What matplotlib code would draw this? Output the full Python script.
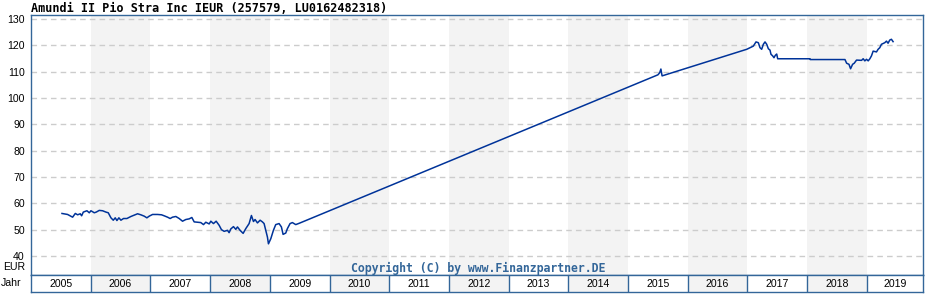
import matplotlib
matplotlib.use("Agg")
import matplotlib.pyplot as plt

# price series (fractional year, EUR)
years = [
    2005.519, 2005.613, 2005.697, 2005.742, 2005.781, 2005.825, 2005.848, 2005.876,
    2005.937, 2005.976, 2006.004, 2006.060, 2006.093, 2006.143, 2006.199, 2006.255,
    2006.294, 2006.339, 2006.378, 2006.411, 2006.439, 2006.472, 2006.506, 2006.550,
    2006.606, 2006.673, 2006.785, 2006.840, 2006.896, 2006.941, 2006.980, 2007.036,
    2007.119, 2007.186, 2007.231, 2007.287, 2007.331, 2007.370, 2007.426, 2007.482,
    2007.538, 2007.593, 2007.649, 2007.694, 2007.733, 2007.789, 2007.844, 2007.889,
    2007.928, 2007.984, 2008.012, 2008.056, 2008.101, 2008.151, 2008.190, 2008.235,
    2008.291, 2008.318, 2008.346, 2008.391, 2008.430, 2008.458, 2008.502, 2008.553,
    2008.597, 2008.653, 2008.692, 2008.726, 2008.753, 2008.793, 2008.837, 2008.876,
    2008.904, 2008.932, 2008.960, 2008.977, 2009.016, 2009.060, 2009.099, 2009.155,
    2009.194, 2009.222, 2009.267, 2009.294, 2009.339, 2009.378, 2009.434, 2009.490,
    2015.500, 2015.530, 2015.550, 2015.570,
    2016.988, 2017.098, 2017.143, 2017.182, 2017.210, 2017.238, 2017.266, 2017.294,
    2017.322, 2017.350, 2017.377, 2017.394, 2017.422, 2017.444, 2017.466, 2017.490,
    2017.506, 2018.047, 2018.052, 2018.633, 2018.661, 2018.700, 2018.727, 2018.761,
    2018.788, 2018.816, 2018.827, 2018.911, 2018.938, 2018.966, 2018.994, 2019.022,
    2019.050, 2019.077, 2019.105, 2019.161, 2019.188, 2019.216, 2019.244, 2019.300,
    2019.328, 2019.355, 2019.383, 2019.411, 2019.439,
]
prices = [
    56.15, 55.77, 54.74, 56.15, 55.64, 56.03, 55.26, 56.67,
    57.18, 56.41, 57.18, 56.41, 56.67, 57.31, 57.18, 56.67,
    56.41, 54.49, 53.59, 54.49, 53.46, 54.49, 53.59, 54.23,
    54.23, 55.00, 56.03, 55.64, 55.13, 54.49, 55.13, 55.77,
    55.77, 55.64, 55.26, 54.74, 54.23, 54.74, 55.00, 54.23,
    53.21, 53.85, 54.10, 54.62, 52.95, 52.82, 52.69, 51.92,
    52.82, 52.18, 53.21, 52.31, 53.21, 51.67, 50.00, 49.36,
    49.74, 48.85, 50.26, 51.15, 50.13, 51.03, 49.74, 48.59,
    50.38, 52.31, 55.38, 53.08, 53.85, 52.56, 53.59, 52.95,
    52.31, 49.74, 47.18, 44.62, 46.54, 49.74, 51.92, 52.31,
    51.03, 48.21, 48.72, 50.38, 52.31, 52.69, 51.92, 52.40,
    108.8, 109.6, 111.0, 108.4,
    118.5, 119.7, 121.3, 121.0, 119.1, 118.5, 120.4, 121.3,
    120.4, 118.7, 118.2, 116.6, 116.0, 115.3, 116.2, 116.7,
    114.9, 114.9, 114.6, 114.6, 113.2, 112.8, 111.1, 112.8,
    113.2, 114.1, 114.4, 114.3, 114.9, 114.1, 114.7, 114.1,
    114.9, 116.0, 117.8, 117.5, 118.5, 119.1, 120.4, 121.0,
    121.6, 120.8, 122.0, 122.3, 121.4,
]
year_labels = list(range(2005, 2020))
y_ticks = [40, 50, 60, 70, 80, 90, 100, 110, 120, 130]

title = "Amundi II Pio Stra Inc IEUR (257579, LU0162482318)"
copyright_txt = "Copyright (C) by www.Finanzpartner.DE"

frame_col = "#336699"
shade_col = "#f3f3f3"
line_col = "#003399"
x0, x1 = 2005.0, 2019.94

plt.rcParams["lines.scale_dashes"] = False

fig = plt.figure(figsize=(9.28, 3.0), dpi=100)
ax = fig.add_axes([31 / 928, 1 - 275 / 300, 892 / 928, 260 / 300])
ax.set_xlim(x0, x1)
ax.set_ylim(32.78, 131.52)

for yr in year_labels:
    if yr % 2 == 0:
        ax.axvspan(yr, yr + 1, color=shade_col, lw=0, zorder=0)
for v in y_ticks:
    ax.axhline(v, color="#cccccc", lw=1.0, ls=(0, (4, 3)), zorder=1)

ax.plot(years, prices, color=line_col, lw=1.1, zorder=3)

ax.set_xticks([])
ax.set_yticks(y_ticks)
ax.set_yticklabels([str(v) for v in y_ticks], fontfamily="Liberation Sans", fontsize=7.6)
ax.tick_params(axis="y", length=0, pad=4.5)
for s in ax.spines.values():
    s.set_color(frame_col)
    s.set_linewidth(1.0)

fig.text(478 / 928, 1 - 268 / 300, copyright_txt, ha="center", va="center",
         fontfamily="DejaVu Sans Mono", fontweight="bold", fontsize=8.3, color=frame_col, zorder=4)

# year band below the plot
bx = fig.add_axes([31 / 928, 1 - 292 / 300, 892 / 928, 17 / 300])
bx.set_xlim(x0, x1)
bx.set_ylim(0, 1)
bx.set_xticks([])
bx.set_yticks([])
for s in bx.spines.values():
    s.set_color(frame_col)
    s.set_linewidth(1.0)
for yr in year_labels:
    if yr % 2 == 0:
        bx.axvspan(yr, yr + 1, color=shade_col, lw=0, zorder=0)
    if yr > year_labels[0]:
        bx.axvline(yr, color=frame_col, lw=1.0)
    lo, hi = max(yr, x0), min(yr + 1, x1)
    bx.text((lo + hi) / 2, 0.45, str(yr), ha="center", va="center",
            fontfamily="Liberation Sans", fontsize=7.6)

fig.text(25 / 928, 1 - 267 / 300, "EUR", ha="right", va="center",
         fontfamily="Liberation Sans", fontsize=7.6)
fig.text(1 / 928, 1 - 283.5 / 300, "Jahr", ha="left", va="center",
         fontfamily="Liberation Sans", fontsize=7.6)
fig.text(31 / 928, 1 - 8.5 / 300, title, ha="left", va="center",
         fontfamily="DejaVu Sans Mono", fontweight="bold", fontsize=8.5)

fig.savefig("out.png", dpi=100)
